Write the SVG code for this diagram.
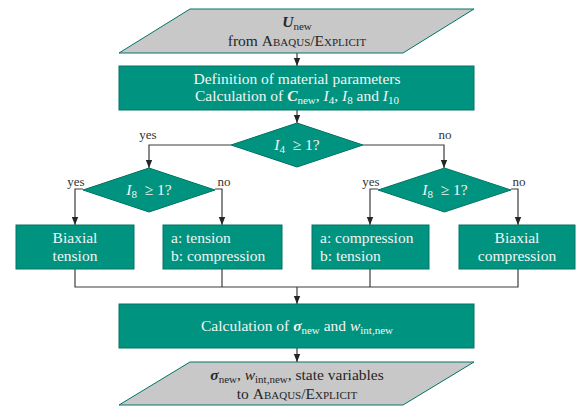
<svg xmlns="http://www.w3.org/2000/svg" width="576" height="406" viewBox="0 0 576 406">
<defs>
<style>
.box{fill:#009480;stroke:#007463;stroke-width:1}
.io{fill:#c8c8c8;stroke:#007463;stroke-width:1}
.ln{fill:none;stroke:#3c3c3c;stroke-width:1.2}
text{font-family:"Liberation Serif","DejaVu Serif",serif;font-size:15.5px}
.w{fill:#f4f4f4}
.d{fill:#262626}
.lb{fill:#333;font-size:13px}
.c{text-anchor:middle}
.sc{font-variant:small-caps}
.sub{font-size:11px}
</style>
<marker id="ar" viewBox="0 0 8 8" refX="8" refY="4" markerWidth="8" markerHeight="8" markerUnits="userSpaceOnUse" orient="auto">
<path d="M0,0.8 L8,4 L0,7.2 z" fill="#262626"/>
</marker>
</defs>

<g id="connectors">
<line class="ln" x1="297" y1="53" x2="297" y2="66" marker-end="url(#ar)"/>
<line class="ln" x1="297" y1="110" x2="297" y2="123" marker-end="url(#ar)"/>
<polyline class="ln" points="231,145 149,145 149,168" marker-end="url(#ar)"/>
<polyline class="ln" points="363,145 444,145 444,168" marker-end="url(#ar)"/>
<polyline class="ln" points="83,189 75,189 75,225" marker-end="url(#ar)"/>
<polyline class="ln" points="215,189 222,189 222,225" marker-end="url(#ar)"/>
<polyline class="ln" points="378,189 370,189 370,225" marker-end="url(#ar)"/>
<polyline class="ln" points="511,189 518,189 518,225" marker-end="url(#ar)"/>
<polyline class="ln" points="75,269 75,287 518,287 518,269"/>
<line class="ln" x1="222" y1="269" x2="222" y2="287"/>
<line class="ln" x1="370" y1="269" x2="370" y2="287"/>
<line class="ln" x1="297" y1="287" x2="297" y2="304" stroke-width="1.6" marker-end="url(#ar)"/>
<line class="ln" x1="297" y1="348" x2="297" y2="362" marker-end="url(#ar)"/>
<text class="lb c" x="148" y="139">yes</text>
<text class="lb c" x="445" y="139">no</text>
<text class="lb c" x="76" y="186">yes</text>
<text class="lb c" x="224" y="186">no</text>
<text class="lb c" x="371" y="186">yes</text>
<text class="lb c" x="519" y="186">no</text>
</g>

<g id="input">
<polygon class="io" points="190,9 474,9 403,53 119,53"/>
<text class="d c" x="297" y="27"><tspan font-weight="bold" font-style="italic">U</tspan><tspan class="sub" dy="2.5">new</tspan></text>
<text class="d c" x="297" y="46">from <tspan class="sc">Abaqus/Explicit</tspan></text>
</g>

<g id="definition">
<rect class="box" x="119" y="66" width="355" height="44"/>
<text class="w c" x="297" y="84">Definition of material parameters</text>
<text class="w c" x="297" y="101">Calculation of <tspan font-weight="bold" font-style="italic">C</tspan><tspan class="sub" dy="3">new</tspan><tspan dy="-3">, </tspan><tspan font-style="italic">I</tspan><tspan class="sub" dy="3">4</tspan><tspan dy="-3">, </tspan><tspan font-style="italic">I</tspan><tspan class="sub" dy="3">8</tspan><tspan dy="-3"> and </tspan><tspan font-style="italic">I</tspan><tspan class="sub" dy="3">10</tspan></text>
</g>

<g id="decision-i4">
<polygon class="box" points="297,123 363,145 297,167 231,145"/>
<text class="w c" x="297" y="150"><tspan font-style="italic">I</tspan><tspan class="sub" dy="3">4</tspan><tspan dy="-3">&#160;&#160;≥ 1?</tspan></text>
</g>

<g id="decision-i8-left">
<polygon class="box" points="149,168 215,190 149,212 83,190"/>
<text class="w c" x="149" y="195"><tspan font-style="italic">I</tspan><tspan class="sub" dy="3">8</tspan><tspan dy="-3">&#160;&#160;≥ 1?</tspan></text>
</g>

<g id="decision-i8-right">
<polygon class="box" points="444.5,168 511,190 444.5,212 378,190"/>
<text class="w c" x="445" y="195"><tspan font-style="italic">I</tspan><tspan class="sub" dy="3">8</tspan><tspan dy="-3">&#160;&#160;≥ 1?</tspan></text>
</g>

<g id="biaxial-tension">
<rect class="box" x="16" y="225" width="118" height="44"/>
<text class="w c" x="75" y="243">Biaxial</text>
<text class="w c" x="75" y="261">tension</text>
</g>

<g id="tension-compression">
<rect class="box" x="163" y="225" width="119" height="44"/>
<text class="w" x="171" y="243">a: tension</text>
<text class="w" x="171" y="261">b: compression</text>
</g>

<g id="compression-tension">
<rect class="box" x="312" y="225" width="117" height="44"/>
<text class="w" x="320" y="243">a: compression</text>
<text class="w" x="320" y="261">b: tension</text>
</g>

<g id="biaxial-compression">
<rect class="box" x="459" y="225" width="116" height="44"/>
<text class="w c" x="517" y="243">Biaxial</text>
<text class="w c" x="517" y="261">compression</text>
</g>

<g id="calculation">
<rect class="box" x="119" y="304" width="355" height="44"/>
<text class="w c" x="297" y="331">Calculation of <tspan font-weight="bold" font-style="italic">σ</tspan><tspan class="sub" dy="3">new</tspan><tspan dy="-3"> and </tspan><tspan font-style="italic">w</tspan><tspan class="sub" dy="3">int,new</tspan></text>
</g>

<g id="output">
<polygon class="io" points="190,362 474,362 403,405 119,405"/>
<text class="d c" x="297" y="380"><tspan font-weight="bold" font-style="italic">σ</tspan><tspan class="sub" dy="2.5">new</tspan><tspan dy="-2.5">, </tspan><tspan font-style="italic">w</tspan><tspan class="sub" dy="2.5">int,new</tspan><tspan dy="-2.5">, state variables</tspan></text>
<text class="d c" x="297" y="399">to <tspan class="sc">Abaqus/Explicit</tspan></text>
</g>
</svg>
